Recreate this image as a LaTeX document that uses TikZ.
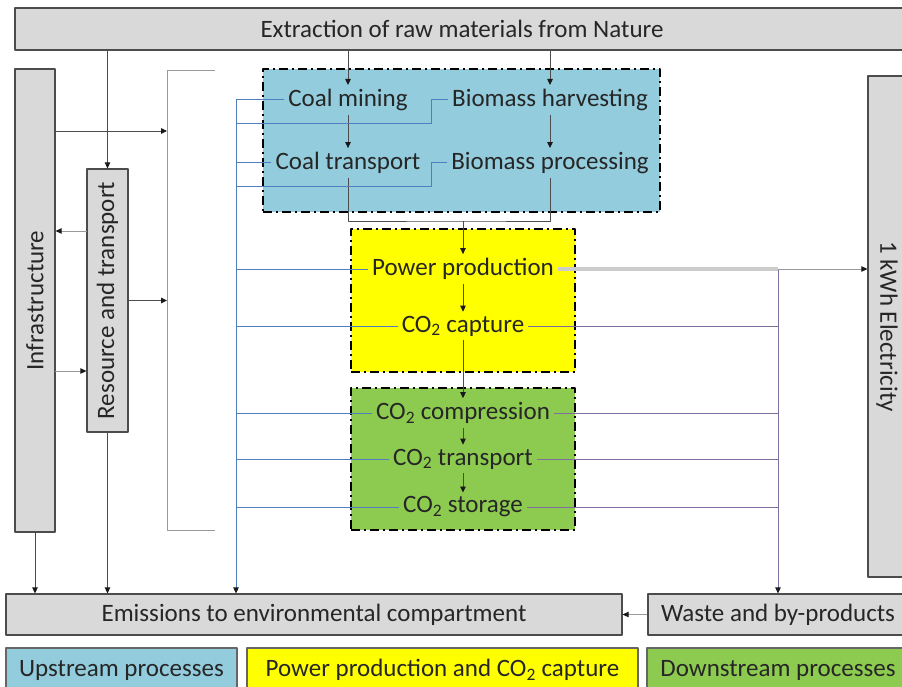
\documentclass[tikz,border=0pt]{standalone}
\usepackage{fontspec}
\setmainfont{Carlito}
\usetikzlibrary{arrows.meta,positioning}
\definecolor{boxgray}{HTML}{D9D9D9}
\definecolor{upblue}{HTML}{93CDDD}
\definecolor{ppyellow}{HTML}{FFFF00}
\definecolor{dsgreen}{HTML}{8DCB50}
\definecolor{busblue}{HTML}{4F7FBD}
\definecolor{buspurple}{HTML}{7E6FA0}
\newcommand{\cotwo}{CO\textsubscript{2}}

\begin{document}
\begin{tikzpicture}[x=1pt,y=-1pt,>={Triangle[length=6pt,width=5.5pt,color=black!90]},line join=round,
  every node/.style={font=\fontsize{25}{29}\selectfont,text=black!85},
  graybox/.style={draw=black!70,fill=boxgray,line width=1.2pt,inner sep=0pt},
  groupbox/.style={draw=black,line width=2.2pt,dash pattern=on 9pt off 4pt on 2pt off 4pt,inner sep=0pt},
  legbox/.style={draw=black!60,line width=1.2pt,inner sep=0pt},
  proctxt/.style={inner sep=4pt},
  grayline/.style={draw=black!40,line width=0.9pt},
  darkline/.style={draw=black!70,line width=0.9pt},
  blueline/.style={draw=busblue,line width=1pt},
  purpline/.style={draw=buspurple,line width=1pt}]
  \useasboundingbox (0,0) rectangle (902,687);
  \clip (0,0) rectangle (902,687);
  \fill[white] (0,0) rectangle (902,687);

  % frame boxes (rotated ones: east = top/bottom, south = right/left)
  \node[graybox,minimum width=894pt,minimum height=42pt] (nature) at (462,29) {Extraction of raw materials from Nature};
  \node[graybox,rotate=90,minimum width=463pt,minimum height=40pt] (infra) at (35,300.5) {Infrastructure};
  \node[graybox,rotate=90,minimum width=263pt,minimum height=41pt] (res) at (107.5,300.5) {Resource and transport};
  \node[graybox,rotate=-90,minimum width=501pt,minimum height=38pt] (elec) at (887,326.5) {1 kWh Electricity};
  \node[graybox,minimum width=616pt,minimum height=41pt] (emis) at (314,614.5) {Emissions to environmental compartment};
  \node[graybox,minimum width=260pt,minimum height=41pt] (waste) at (778,614.5) {Waste and by-products};

  % process groups
  \node[groupbox,fill=upblue,minimum width=397pt,minimum height=143pt] (upstream) at (461.5,140.5) {};
  \node[groupbox,fill=ppyellow,minimum width=224pt,minimum height=143pt] (ppcc) at (463,300.5) {};
  \node[groupbox,fill=dsgreen,minimum width=224pt,minimum height=142pt] (downstream) at (463,459) {};

  \node[proctxt] (coalmin) at (348,100) {Coal mining};
  \node[proctxt] (biohar) at (550,100) {Biomass harvesting};
  \node[proctxt] (coaltr) at (348,163) {Coal transport};
  \node[proctxt] (biopr) at (550,163) {Biomass processing};
  \node[proctxt] (power) at (463,269) {Power production};
  \node[proctxt] (capture) at (463,326) {\cotwo{} capture};
  \node[proctxt] (comp) at (463,413) {\cotwo{} compression};
  \node[proctxt] (trans) at (463,459) {\cotwo{} transport};
  \node[proctxt] (stor) at (463,507) {\cotwo{} storage};

  % legend
  \node[legbox,fill=upblue,minimum width=231pt,minimum height=44pt] (legup) at (121.5,670) {Upstream processes};
  \node[legbox,fill=ppyellow,minimum width=391pt,minimum height=44pt] (legpp) at (442.5,670) {Power production and \cotwo{} capture};
  \node[legbox,fill=dsgreen,minimum width=262pt,minimum height=44pt] (legds) at (778,670) {Downstream processes};

  \coordinate (brkA) at (167,131);
  \coordinate (ri) at (87,231);
  \coordinate (ir) at (55,371);
  \coordinate (bus) at (236,100);
  \coordinate (wbus) at (778,269);
  \coordinate (merge) at (463,221);
  \coordinate (jogA) at (431,124);
  \coordinate (jogB) at (431,187);

  % infrastructure side
  \draw[grayline] (215,70) -- (167,70) -- (167,530) -- (215,530);
  \draw[darkline,->] (infra.south |- brkA) -- (brkA);
  \draw[darkline,->] (res.south) -- (res.south -| brkA);
  \draw[grayline,->] (ri) -- (ri -| infra.south);
  \draw[grayline,->] (ir) -- (ir -| res.north);
  \draw[darkline,->] (nature.south -| res.east) -- (res.east);
  \draw[darkline,->] (infra.west) -- (infra.west |- emis.north);
  \draw[darkline,->] (res.west) -- (res.west |- emis.north);

  % main chain
  \draw[darkline,->] (nature.south -| coalmin) -- (coalmin.north);
  \draw[darkline,->] (nature.south -| biohar) -- (biohar.north);
  \draw[darkline,->] (coalmin) -- (coaltr);
  \draw[darkline,->] (biohar) -- (biopr);
  \draw[darkline] (coaltr.south) |- (merge) -| (biopr.south);
  \draw[darkline,->] (merge) -- (power.north);
  \draw[darkline,->] (power) -- (capture);
  \draw[darkline,->] (capture) -- (comp);
  \draw[darkline,->] (comp) -- (trans);
  \draw[darkline,->] (trans) -- (stor);

  % emissions bus
  \draw[blueline,->] (bus) -- (bus |- emis.north);
  \draw[blueline] (coalmin.west) -- (bus);
  \draw[blueline] (biohar.west) -| (jogA) -- (bus |- jogA);
  \draw[blueline] (coaltr.west) -- (coaltr.west -| bus);
  \draw[blueline] (biopr.west) -| (jogB) -- (bus |- jogB);
  \foreach \n in {power,capture,comp,trans,stor}
    \draw[blueline] (\n.west) -- (\n.west -| bus);

  % waste bus
  \foreach \n in {capture,comp,trans,stor}
    \draw[purpline] (\n.east) -- (\n.east -| wbus);
  \draw[purpline,->] (wbus) -- (waste.north);
  \draw[line width=3.5pt,black!20] (power.east) -- (wbus);
  \draw[grayline,->] (wbus) -- (power.east -| elec.south);
  \draw[grayline,->] (waste.west) -- (emis.east);
\end{tikzpicture}
\end{document}
